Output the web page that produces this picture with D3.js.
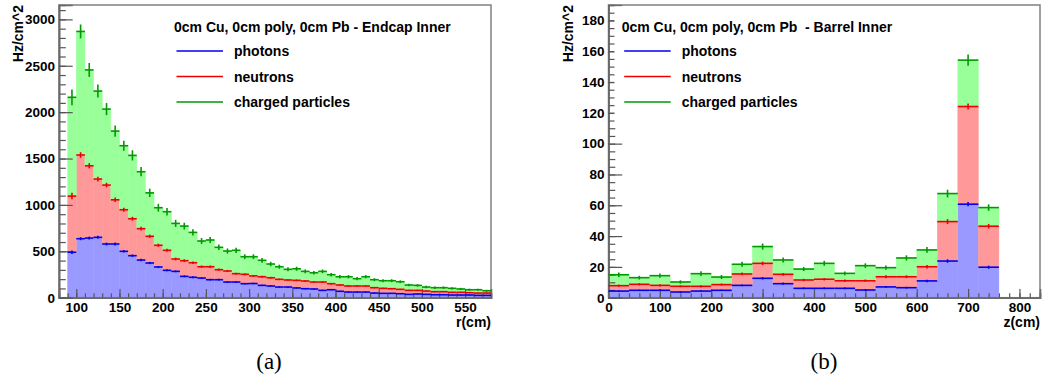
<!DOCTYPE html>
<html>
<head>
<meta charset="utf-8">
<script src="https://cdn.jsdelivr.net/npm/d3@7"></script>
<style>
	body { margin: 0; background: #fff; }
	#dv { width: 1042px; height: 385px; }
	text { font-family: "Liberation Sans", Arial, sans-serif; font-weight: bold; fill: #000; }
	.caption { font-family: "Liberation Serif", "DejaVu Serif", serif; font-weight: normal; }
</style>
</head>
<body>
<div id="dv"></div>
<script>
const container = "#dv";
const font_size = 14;
const tick_font_size = 13.5;

let c_photons = '#9999ff', l_photons = '#0000ee',
	c_neutrons = '#ff9999', l_neutrons = '#ee0000',
	c_charged = '#99ff99', l_charged = '#009900',
	c_frame = '#808080',
	c_tick = '#555555';

// (a) endcap inner, bins of 10 cm in r
const edges_a = d3.range(90, 581, 10);
const photons_a = [490, 636, 643, 651, 579, 579, 500, 453, 406, 374,
	331, 295, 284, 230, 220, 212, 194, 194, 169, 169,
	151, 153, 133, 126, 115, 115, 105, 97, 94, 79,
	86, 69, 61, 61, 61, 50, 47, 47, 43, 36,
	40, 36, 32, 32, 29, 29, 29, 25, 25];
const neutrons_a = [605, 902, 779, 628, 635, 476, 448, 398, 338, 288,
	234, 216, 133, 169, 157, 122, 140, 108, 119, 90,
	101, 82, 93, 89, 83, 76, 82, 83, 75, 90,
	65, 68, 65, 65, 65, 58, 54, 50, 47, 43,
	39, 36, 33, 33, 29, 29, 25, 25, 25];
const charged_a = [1065, 1332, 1033, 948, 819, 741, 690, 683, 614, 468,
	405, 416, 384, 373, 327, 277, 288, 241, 215, 252,
	190, 207, 177, 148, 136, 115, 125, 104, 100, 115,
	97, 89, 100, 79, 100, 86, 82, 86, 82, 58,
	54, 43, 43, 43, 43, 36, 32, 36, 25];
// errors of the stacked sums
const err_photons_a = [18, 16, 16, 16, 15, 15, 14, 13, 13, 12,
	11, 11, 10, 10, 10, 9, 9, 9, 8, 8,
	8, 8, 7, 7, 7, 7, 6, 6, 6, 6,
	6, 5, 5, 5, 5, 5, 4, 4, 4, 4,
	4, 4, 4, 4, 3, 3, 3, 3, 3];
const err_neutrons_a = [35, 30, 28, 26, 25, 24, 22, 21, 20, 18,
	17, 16, 15, 15, 14, 13, 13, 12, 12, 11,
	11, 10, 10, 10, 9, 9, 9, 9, 8, 8,
	8, 7, 7, 7, 7, 7, 6, 6, 6, 6,
	6, 5, 5, 5, 5, 5, 5, 4, 4];
const err_charged_a = [85, 75, 75, 70, 65, 60, 55, 55, 50, 45,
	42, 40, 38, 36, 34, 32, 32, 30, 28, 28,
	26, 26, 25, 24, 22, 22, 22, 21, 20, 20,
	19, 18, 18, 17, 18, 16, 16, 16, 15, 14,
	14, 13, 13, 13, 12, 12, 11, 11, 10];

// (b) barrel inner, bins of 40 cm in z
const edges_b = d3.range(0, 761, 40);
const photons_b = [4.3, 4.8, 4.8, 3.7, 4.3, 4.8, 8.0, 12.6, 9.1, 6.1,
	6.1, 6.1, 5.0, 7.0, 6.5, 10.9, 23.8, 60.7, 19.8];
const neutrons_b = [3.5, 3.9, 3.2, 3.7, 3.1, 3.7, 7.4, 9.7, 6.1, 5.4,
	5.9, 4.9, 6.0, 6.6, 7.1, 9.2, 25.6, 63.4, 26.6];
const charged_b = [7.1, 4.3, 6.3, 2.8, 8.2, 4.9, 6.3, 10.9, 9.3, 7.1,
	10.3, 4.8, 9.8, 5.9, 12.2, 10.9, 18.2, 30.1, 12.1];
const err_photons_b = [0.5, 0.5, 0.5, 0.4, 0.5, 0.5, 0.6, 0.8, 0.7, 0.6,
	0.6, 0.6, 0.5, 0.6, 0.6, 0.8, 1.1, 1.4, 1.0];
const err_neutrons_b = [0.7, 0.7, 0.7, 0.6, 0.7, 0.7, 0.9, 1.1, 0.9, 0.8,
	0.8, 0.8, 0.8, 0.9, 0.9, 1.1, 1.6, 2.0, 1.5];
const err_charged_b = [1.5, 1.2, 1.4, 1.1, 1.5, 1.3, 1.6, 2.0, 1.6, 1.3,
	1.6, 1.2, 1.5, 1.4, 1.7, 1.9, 2.5, 3.6, 2.1];

const series = ["photons", "neutrons", "charged"];
const series_labels = ["photons", "neutrons", "charged particles"];
const fills = [c_photons, c_neutrons, c_charged];
const lines = [l_photons, l_neutrons, l_charged];

let svg = d3.select(container)
	.append("svg")
	.attr("width", 1042)
	.attr("height", 385);

function draw_panel(p) {

	let g = svg.append("g").attr("id", p.id);

	let x = d3.scaleLinear().domain(p.x_domain).range([p.left, p.right]);
	let y = d3.scaleLinear().domain(p.y_domain).range([p.bottom, p.top]);

	// stacked data
	// ---------------------------
	let rows = p.edges.slice(0, -1).map((e, i) => ({
		lo: e, hi: p.edges[i + 1],
		photons: p.photons[i], neutrons: p.neutrons[i], charged: p.charged[i],
		err: [p.err_photons[i], p.err_neutrons[i], p.err_charged[i]]
	}));
	let stacked = d3.stack().keys(series)(rows);

	// fills
	stacked.forEach((layer, k) => {
		g.append("g")
			.selectAll("rect")
			.data(layer)
			.enter()
			.append("rect")
			.attr("x", d => x(d.data.lo))
			.attr("width", d => x(d.data.hi) - x(d.data.lo))
			.attr("y", d => y(d[1]))
			.attr("height", d => y(d[0]) - y(d[1]))
			.attr("fill", fills[k])
			.attr("stroke", fills[k])
			.attr("stroke-width", 0.5);
	});

	// frame
	g.append("rect")
		.attr("x", p.left).attr("y", p.top)
		.attr("width", p.right - p.left).attr("height", p.bottom - p.top)
		.attr("fill", "none")
		.attr("stroke", c_frame)
		.attr("stroke-width", 1.5);

	// axes (ticks inside the frame)
	// ---------------------------
	let x_minor = g.append("g")
		.attr("transform", "translate(0," + p.bottom + ")")
		.call(d3.axisBottom(x).tickValues(p.x_minor).tickSize(-4.4).tickFormat(""));
	let x_major = g.append("g")
		.attr("transform", "translate(0," + p.bottom + ")")
		.call(d3.axisBottom(x).tickValues(p.x_major).tickSize(-8.8).tickPadding(5).tickFormat(d3.format("d")));
	let y_minor = g.append("g")
		.attr("transform", "translate(" + p.left + ",0)")
		.call(d3.axisLeft(y).tickValues(p.y_minor).tickSize(-6.8).tickFormat(""));
	let y_major = g.append("g")
		.attr("transform", "translate(" + p.left + ",0)")
		.call(d3.axisLeft(y).tickValues(p.y_major).tickSize(-13.7).tickPadding(4).tickFormat(d3.format("d")));

	[x_minor, x_major, y_minor, y_major].forEach(a => {
		a.select(".domain").attr("stroke", "#6a6a6a").attr("stroke-width", 1.6);
		a.selectAll(".tick line").attr("stroke", c_tick).attr("stroke-width", 1.2);
		a.selectAll("text")
			.style("font-size", tick_font_size + "px")
			.attr("font-family", null);
	});

	// error crosses
	// ---------------------------
	stacked.forEach((layer, k) => {
		let cross = g.append("g")
			.attr("stroke", lines[k])
			.attr("stroke-width", 1.6);
		cross.selectAll(".h")
			.data(layer)
			.enter()
			.append("line")
			.attr("x1", d => x(d.data.lo))
			.attr("x2", d => x(d.data.hi))
			.attr("y1", d => y(d[1]))
			.attr("y2", d => y(d[1]));
		cross.selectAll(".v")
			.data(layer)
			.enter()
			.append("line")
			.attr("x1", d => x((d.data.lo + d.data.hi) / 2))
			.attr("x2", d => x((d.data.lo + d.data.hi) / 2))
			.attr("y1", d => y(d[1] + d.data.err[k]))
			.attr("y2", d => y(d[1] - d.data.err[k]));
	});

	// legend
	// ---------------------------
	if (p.legend_box) {
		g.append("rect")
			.attr("x", p.legend_box[0]).attr("y", p.legend_box[1])
			.attr("width", p.legend_box[2]).attr("height", p.legend_box[3])
			.attr("fill", "#fff");
	}
	g.append("text")
		.attr("x", p.legend_x)
		.attr("y", 31.5)
		.style("font-size", font_size + "px")
		.style("white-space", "pre")
		.text(p.title);
	let legend_y = [51, 76.5, 102];
	series_labels.forEach((s, k) => {
		g.append("line")
			.attr("x1", p.legend_x + 2.5).attr("x2", p.legend_x + 49)
			.attr("y1", legend_y[k]).attr("y2", legend_y[k])
			.attr("stroke", lines[k])
			.attr("stroke-width", 1.6);
		g.append("text")
			.attr("x", p.legend_x + 60)
			.attr("y", legend_y[k] + 5)
			.style("font-size", font_size + "px")
			.text(s);
	});

	// axis titles
	g.append("text")
		.attr("transform", "translate(" + (p.left - 36) + "," + p.top + ") rotate(-90)")
		.attr("text-anchor", "end")
		.style("font-size", font_size + "px")
		.text("Hz/cm^2");
	g.append("text")
		.attr("x", p.right)
		.attr("y", 326.5)
		.attr("text-anchor", "end")
		.style("font-size", font_size + "px")
		.text(p.x_title);

	// caption
	g.append("text")
		.attr("class", "caption")
		.attr("x", p.caption_x)
		.attr("y", 369)
		.attr("text-anchor", "middle")
		.style("font-size", "23px")
		.text(p.caption);
}

draw_panel({
	id: "panel_a",
	left: 59, right: 491, top: 5, bottom: 297.7,
	x_domain: [80, 580], y_domain: [0, 3155],
	edges: edges_a,
	photons: photons_a, neutrons: neutrons_a, charged: charged_a,
	err_photons: err_photons_a, err_neutrons: err_neutrons_a, err_charged: err_charged_a,
	x_major: d3.range(100, 551, 50), x_minor: d3.range(80, 581, 10),
	y_major: d3.range(0, 3001, 500), y_minor: d3.range(0, 3101, 100),
	title: "0cm Cu, 0cm poly, 0cm Pb - Endcap Inner",
	legend_x: 174,
	legend_box: null,
	x_title: "r(cm)",
	caption: "(a)", caption_x: 269
});

draw_panel({
	id: "panel_b",
	left: 608.5, right: 1040, top: 5, bottom: 297.7,
	x_domain: [0, 840], y_domain: [0, 190],
	edges: edges_b,
	photons: photons_b, neutrons: neutrons_b, charged: charged_b,
	err_photons: err_photons_b, err_neutrons: err_neutrons_b, err_charged: err_charged_b,
	x_major: d3.range(0, 801, 100), x_minor: d3.range(0, 841, 20),
	y_major: d3.range(0, 181, 20), y_minor: d3.range(0, 186, 5),
	title: "0cm Cu, 0cm poly, 0cm Pb  - Barrel Inner",
	legend_x: 621.7,
	legend_box: [614.5, 6.5, 300, 118],
	x_title: "z(cm)",
	caption: "(b)", caption_x: 824
});
</script>
</body>
</html>
